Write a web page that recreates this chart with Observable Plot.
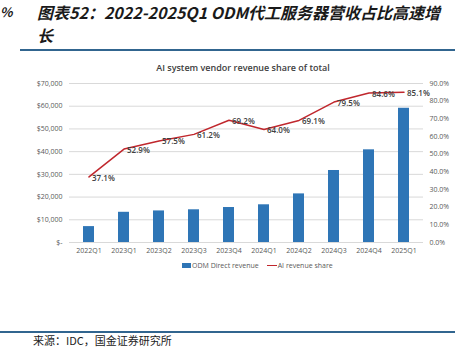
<!DOCTYPE html>
<html>
<head>
<meta charset="utf-8">
<script src="https://cdn.jsdelivr.net/npm/d3@7"></script>
<script src="https://cdn.jsdelivr.net/npm/@observablehq/plot@0.6"></script>
<style>
  html, body { margin: 0; padding: 0; background: #fff; width: 469px; height: 348px; overflow: hidden; position: relative; }
  .abs { position: absolute; white-space: nowrap; }
  .cjk { font-family: "Noto Sans CJK SC", sans-serif; }
  .title { font-size: 16px; font-weight: bold; font-style: italic; color: #1a1a1a; line-height: 16px; }
  .rule { position: absolute; height: 2px; background: #31658f; }
  .ctitle { font-family: "Open Sans", sans-serif; font-weight: 600; font-size: 9px; color: #404040; }
  .legend { font-family: "Open Sans", sans-serif; font-size: 7px; color: #595959; display: flex; align-items: center; }
  #chart { position: absolute; left: 0; top: 74px; }
</style>
</head>
<body>
<div class="abs cjk title" style="left:0px; top:4px; font-size:13px;">%</div>
<div class="abs cjk title" style="left:37px; top:4px;">图表52：2022-2025Q1 ODM代工服务器营收占比高速增</div>
<div class="abs cjk title" style="left:37px; top:27px;">长</div>
<div class="rule" style="left:20px; width:435px; top:49px;"></div>
<div class="abs ctitle" style="left:0; width:486px; text-align:center; top:61px;">AI system vendor revenue share of total</div>
<div id="chart"></div>
<div class="abs legend" style="left:182px; top:261px;">
  <span style="display:inline-block;width:9px;height:5px;background:#2e75b6;margin-right:1px;"></span>
  <span>ODM Direct revenue</span>
  <span style="display:inline-block;width:10px;height:1.5px;background:#c0272d;margin-left:8px;margin-right:1px;"></span>
  <span>AI revenue share</span>
</div>
<div class="rule" style="left:0; width:455px; top:331px;"></div>
<div class="abs cjk" style="left:33px; top:334px; font-size:11px; line-height:12px; color:#222;">来源：IDC，国金证券研究所</div>
<script>
const quarters = ["2022Q1","2023Q1","2023Q2","2023Q3","2023Q4","2024Q1","2024Q2","2024Q3","2024Q4","2025Q1"];
const odmRevenue = [7000, 13300, 13900, 14400, 15400, 16600, 21400, 31700, 40800, 59100];
const aiShare = [37.1, 52.9, 57.5, 61.2, 69.2, 64.0, 69.1, 79.5, 84.6, 85.1];
const leftTicks = [0, 10000, 20000, 30000, 40000, 50000, 60000, 70000];
const rightTicks = [0, 10, 20, 30, 40, 50, 60, 70, 80, 90];

const yMax = 70000, pMax = 90;
const toY = p => p / pMax * yMax;
const rows = quarters.map((q, i) => ({q, rev: odmRevenue[i], share: aiShare[i]}));

const chart = Plot.plot({
  width: 469,
  height: 200,
  marginLeft: 69,
  marginRight: 46,
  marginTop: 9,
  marginBottom: 32,
  style: {fontFamily: "'Open Sans', sans-serif", fontSize: "7px", color: "#595959", background: "transparent"},
  x: {domain: quarters, paddingInner: 0.69, paddingOuter: 0.345},
  y: {domain: [0, yMax]},
  marks: [
    Plot.gridY(leftTicks, {stroke: "#d9d9d9", strokeOpacity: 1}),
    Plot.axisY({ticks: leftTicks, tickSize: 0, tickPadding: 7, label: null,
      tickFormat: d => d === 0 ? "$-" : "$" + d3.format(",")(d), fill: "#595959"}),
    Plot.axisY({anchor: "right", ticks: rightTicks.map(toY), tickSize: 0, tickPadding: 6, label: null,
      tickFormat: v => (v / yMax * pMax).toFixed(1) + "%", fill: "#595959"}),
    Plot.axisX({tickSize: 0, tickPadding: 6, label: null, fill: "#595959"}),
    Plot.barY(rows, {x: "q", y: "rev", fill: "#2e75b6"}),
    Plot.lineY(rows, {x: "q", y: d => toY(d.share), stroke: "#c0272d", strokeWidth: 1.5}),
    Plot.text(rows, {x: "q", y: d => toY(d.share), text: d => d.share.toFixed(1) + "%",
      dx: 3, dy: 1, textAnchor: "start", fontSize: 8, fontWeight: 600, fill: "#404040"})
  ]
});
document.getElementById("chart").appendChild(chart);
</script>
</body>
</html>
